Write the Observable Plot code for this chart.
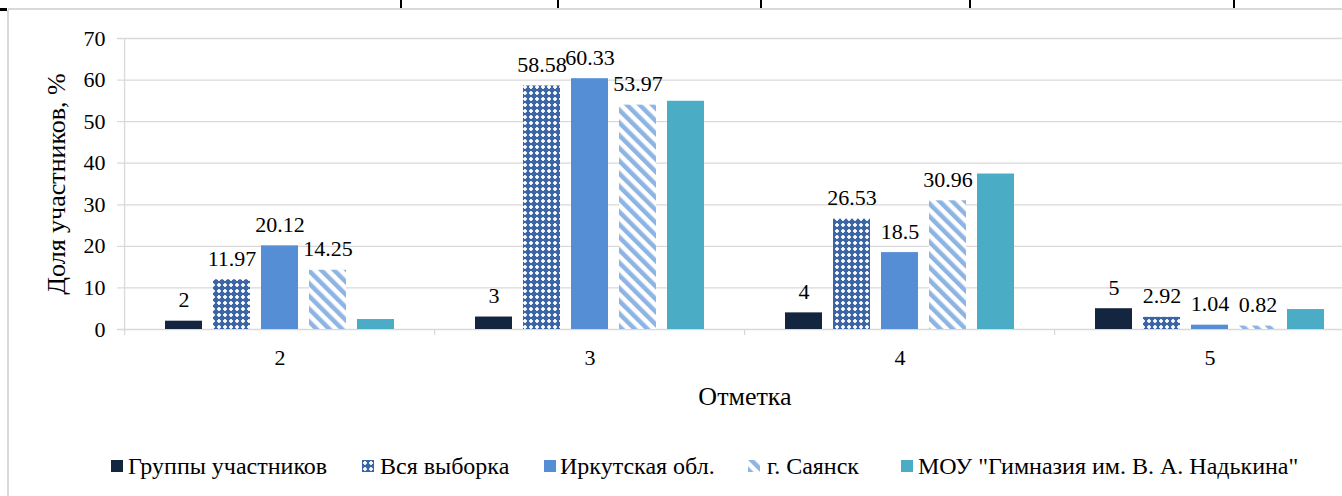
<!DOCTYPE html>
<html><head><meta charset="utf-8">
<script src="https://cdn.jsdelivr.net/npm/d3@7"></script>
<script src="https://cdn.jsdelivr.net/npm/@observablehq/plot@0.6"></script>
<style>
body{margin:0;background:#fff;font-family:"Liberation Serif","Times New Roman",Tinos,"DejaVu Serif",serif;}
#wrap{position:relative;width:1342px;height:496px;overflow:hidden;background:#fff;}
#chart svg{display:block;overflow:hidden;}
#legend{position:relative;height:76px;}
.item{position:absolute;top:33px;line-height:26px;font-size:24px;color:#000;white-space:nowrap;}
.item svg{position:absolute;top:7px;}
.item span{position:absolute;white-space:nowrap;}
.deco{position:absolute;}
</style></head><body>
<div id="wrap">
<div id="chart"></div>
<div id="legend"></div>
<div class="deco" style="left:8px;top:8px;width:1334px;height:2px;background:#d9d9d9"></div>
<div class="deco" style="left:7px;top:10px;width:2px;height:486px;background:#d9d9d9"></div>
<div class="deco" style="left:0;top:8px;width:7px;height:3px;background:#000"></div>
<div class="deco" style="left:400px;top:0;width:2px;height:8px;background:#000"></div>
<div class="deco" style="left:557px;top:0;width:2px;height:8px;background:#000"></div>
<div class="deco" style="left:760px;top:0;width:2px;height:8px;background:#000"></div>
<div class="deco" style="left:969px;top:0;width:2px;height:8px;background:#000"></div>
<div class="deco" style="left:1233px;top:0;width:2px;height:8px;background:#000"></div>
</div>
<script>
// ---- data ----
const grades = ["2", "3", "4", "5"];
const seriesNames = ["Группы участников", "Вся выборка", "Иркутская обл.", "г. Саянск", "МОУ \"Гимназия им. В. А. Надькина\""];
const groupValues = [2, 3, 4, 5];
const sampleValues = [11.97, 58.58, 26.53, 2.92];
const irkutskValues = [20.12, 60.33, 18.5, 1.04];
const sayanskValues = [14.25, 53.97, 30.96, 0.82];
const gymnasiumValues = [2.4, 54.9, 37.4, 4.8];
const seriesLabelled = [true, true, true, true, false];
const yTicks = [0, 10, 20, 30, 40, 50, 60, 70];
const yTitle = "Доля участников, %";
const xTitle = "Отметка";

// ---- styles ----
const fills = ["#14263f", "url(#pDots)", "#558ed5", "url(#pStripes)", "#4bacc6"];
const allValues = [groupValues, sampleValues, irkutskValues, sayanskValues, gymnasiumValues];
const step = 48;
const fontSize = 22;
const titleSize = 26;
const serif = "Liberation Serif, Times New Roman, Tinos, DejaVu Serif, serif";

const series = allValues.map((vals, i) => grades.map((g, j) => ({grade: g, value: vals[j], series: seriesNames[i]})));

const marks = [
  Plot.ruleY(yTicks, {stroke: "#d9d9d9", strokeWidth: 1.3, insetLeft: -6}),
  Plot.ruleX(grades, {x: d => d, dx: -155.4, y1: 0, y2: 0, insetBottom: -6, stroke: "#d9d9d9", strokeWidth: 1.3}),
  Plot.ruleX([grades[0]], {x: d => d, dx: -155.4, y1: 0, y2: 70, stroke: "#d9d9d9", strokeWidth: 1.3})
];
series.forEach((rows, i) => {
  marks.push(Plot.barY(rows, {x: "grade", y: "value", fill: fills[i], dx: (i - 2) * step}));
});
series.forEach((rows, i) => {
  if (seriesLabelled[i]) {
    marks.push(Plot.text(rows, {x: "grade", y: "value", text: d => String(d.value), dx: (i - 2) * step, dy: -21, fontSize, fill: "#000"}));
  }
});
marks.push(Plot.text([yTitle], {frameAnchor: "left", text: d => d, dx: -67, rotate: -90, fontSize: titleSize, fill: "#000", textAnchor: "middle", lineAnchor: "middle"}));
marks.push(Plot.text([xTitle], {frameAnchor: "bottom", text: d => d, dy: 67, fontSize: titleSize, fill: "#000", textAnchor: "middle", lineAnchor: "middle"}));

const chart = Plot.plot({
  width: 1342,
  height: 420,
  marginLeft: 123,
  marginRight: -24,
  marginTop: 38,
  marginBottom: 91,
  style: {fontFamily: serif, fontSize: fontSize + "px", color: "#000", background: "transparent", overflow: "hidden"},
  x: {domain: grades, paddingInner: 0.8793, paddingOuter: 0.4397, tickSize: 0, tickPadding: 20, label: null},
  y: {domain: [0, 70], ticks: yTicks, tickSize: 0, tickPadding: 18, label: null, tickFormat: d => String(d)},
  marks
});
document.getElementById("chart").appendChild(chart);

// patterns
const svg = d3.select(chart);
const defs = svg.insert("defs", ":first-child");
function addPatterns(defs, suffix) {
  const pd = defs.append("pattern").attr("id", "pDots" + suffix).attr("patternUnits", "userSpaceOnUse").attr("width", 6).attr("height", 6);
  pd.append("rect").attr("width", 6).attr("height", 6).attr("fill", "#3b65a5");
  pd.append("rect").attr("x", 1).attr("y", 2).attr("width", 4).attr("height", 2).attr("fill", "#ffffff").attr("opacity", 0.85);
  pd.append("rect").attr("x", 2).attr("y", 1).attr("width", 2).attr("height", 4).attr("fill", "#ffffff").attr("opacity", 0.85);
  const ps = defs.append("pattern").attr("id", "pStripes" + suffix).attr("patternUnits", "userSpaceOnUse").attr("width", 9).attr("height", 9).attr("patternTransform", "rotate(-45)");
  ps.append("rect").attr("width", 9).attr("height", 9).attr("fill", "#ffffff");
  ps.append("rect").attr("width", 4.5).attr("height", 9).attr("fill", "#8db4e2");
}
addPatterns(defs, "");

// legend
const markerLefts = [111, 362, 544, 748, 901];
const textLefts = [128, 380, 560, 767, 918];
const legend = d3.select("#legend");
seriesNames.forEach((name, i) => {
  const item = legend.append("div").attr("class", "item").style("left", "0px");
  const s = item.append("svg").attr("width", 12).attr("height", 12).style("left", markerLefts[i] + "px");
  const d = s.append("defs");
  addPatterns(d, "L" + i);
  const f = fills[i].startsWith("url") ? fills[i].replace(")", "L" + i + ")") : fills[i];
  s.append("rect").attr("width", 12).attr("height", 12).attr("fill", f);
  item.append("span").style("left", textLefts[i] + "px").text(name);
});
</script>
</body></html>
